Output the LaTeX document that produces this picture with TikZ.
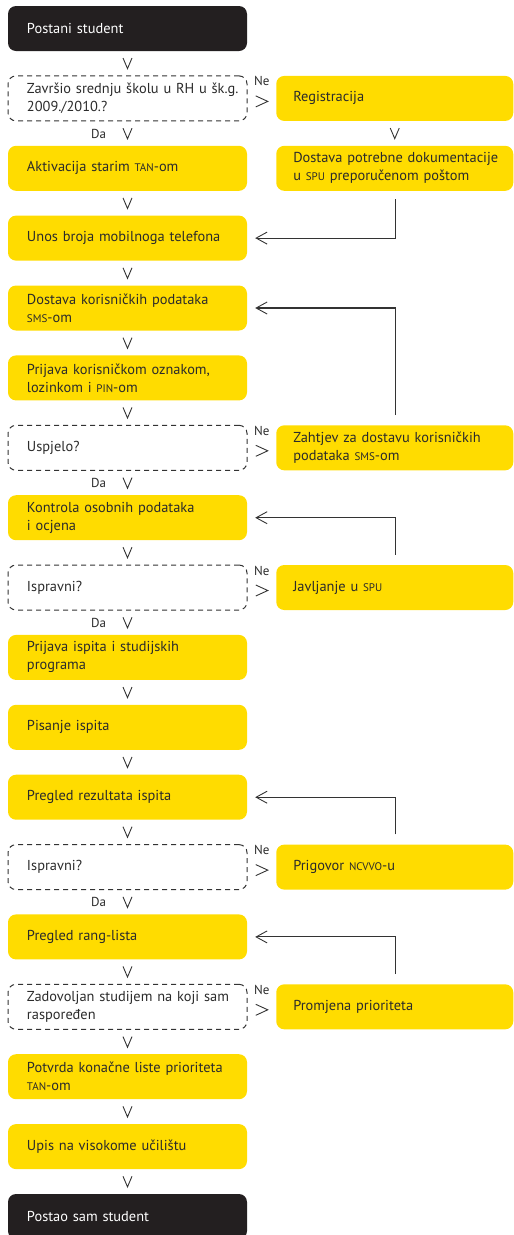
\documentclass[tikz,border=0pt]{standalone}
\usepackage{fontspec}
\setmainfont{PT Sans}
\usetikzlibrary{arrows.meta,decorations.markings}
\definecolor{ey}{HTML}{FFDC00}
\definecolor{eblack}{HTML}{231F20}
\definecolor{etext}{HTML}{2B2B2B}
\definecolor{eline}{HTML}{333333}
\newcommand\smc[1]{{\fontsize{11}{18}\selectfont #1}}
\newcommand\fs{\fontsize{14.4}{18}\selectfont}
\begin{document}
\begin{tikzpicture}[x=1pt,y=-1pt,
  lbox/.style={rounded corners=8pt, minimum width=239pt, minimum height=45pt,
    text width=201pt, inner xsep=19pt, inner ysep=0pt, align=left, font=\fs, text=etext},
  yb/.style={lbox, fill=ey},
  bb/.style={lbox, fill=eblack, text=white},
  db/.style={lbox, draw=eline, dash pattern=on 5pt off 4pt, line width=1pt},
  rbox/.style={yb, minimum width=237pt, text width=203pt, inner xsep=17pt},
  vcon/.style={decoration={markings, mark=at position 0.5 with {\draw[eline, line width=0.9pt] (-5.3pt,4.5pt) -- (5.3pt,0pt) -- (-5.3pt,-4.5pt);}}, postaction=decorate},
  necon/.style={decoration={markings, mark=at position 0.5 with {\draw[eline, line width=0.9pt] (-6pt,5.5pt) -- (6pt,0pt) -- (-6pt,-5.5pt);}}, postaction=decorate},
  fb/.style={draw=eline, line width=1.1pt, -{Straight Barb[length=11pt,width=12pt,line width=0.9pt]}},
  lab/.style={font=\fontsize{13}{15}\selectfont, text=etext, inner sep=0pt},
]
\useasboundingbox (0,0) rectangle (514,1235);

% left column
\node[bb] (n0) at (127.5,28.5) {Postani student};
\node[db] (n1) at (127.5,98.4) {\mbox{Završio srednju školu u RH u šk.g.}\\2009./2010.?};
\node[yb] (n2) at (127.5,168.3) {Aktivacija starim \smc{TAN}-om};
\node[yb] (n3) at (127.5,238.1) {Unos broja mobilnoga telefona};
\node[yb] (n4) at (127.5,308.0) {Dostava korisničkih podataka\\\smc{SMS}-om};
\node[yb] (n5) at (127.5,377.9) {Prijava korisničkom oznakom,\\lozinkom i \smc{PIN}-om};
\node[db] (n6) at (127.5,447.8) {Uspjelo?};
\node[yb] (n7) at (127.5,517.7) {Kontrola osobnih podataka\\i ocjena};
\node[db] (n8) at (127.5,587.5) {Ispravni?};
\node[yb] (n9) at (127.5,657.4) {Prijava ispita i studijskih\\programa};
\node[yb] (n10) at (127.5,727.3) {Pisanje ispita};
\node[yb] (n11) at (127.5,797.2) {Pregled rezultata ispita};
\node[db] (n12) at (127.5,867.1) {Ispravni?};
\node[yb] (n13) at (127.5,936.9) {Pregled rang-lista};
\node[db] (n14) at (127.5,1006.8) {\mbox{Zadovoljan studijem na koji sam}\\raspoređen};
\node[yb] (n15) at (127.5,1076.7) {\mbox{Potvrda konačne liste prioriteta}\\\smc{TAN}-om};
\node[yb] (n16) at (127.5,1146.6) {Upis na visokome učilištu};
\node[bb] (n17) at (127.5,1216.5) {Postao sam student};

% right column
\node[rbox] (r1) at (394.75,98.4) {Registracija};
\node[rbox] (r2) at (394.75,168.3) {\mbox{Dostava potrebne dokumentacije}\\u \smc{SPU} preporučenom poštom};
\node[rbox] (r6) at (394.75,447.8) {\mbox{Zahtjev za dostavu korisničkih}\\podataka \smc{SMS}-om};
\node[rbox] (r8) at (394.75,587.5) {Javljanje u \smc{SPU}};
\node[rbox] (r12) at (394.75,867.1) {Prigovor \smc{NCVVO}-u};
\node[rbox] (r14) at (394.75,1006.8) {Promjena prioriteta};

% main flow
\path[vcon] (n0) -- (n1);
\path[vcon] (n1) -- node[lab, xshift=-29pt] (da1) {Da} (n2);
\path[vcon] (n2) -- (n3);
\path[vcon] (n3) -- (n4);
\path[vcon] (n4) -- (n5);
\path[vcon] (n5) -- (n6);
\path[vcon] (n6) -- node[lab, xshift=-29pt] (da6) {Da} (n7);
\path[vcon] (n7) -- (n8);
\path[vcon] (n8) -- node[lab, xshift=-29pt] (da8) {Da} (n9);
\path[vcon] (n9) -- (n10);
\path[vcon] (n10) -- (n11);
\path[vcon] (n11) -- (n12);
\path[vcon] (n12) -- node[lab, xshift=-29pt] (da12) {Da} (n13);
\path[vcon] (n13) -- (n14);
\path[vcon] (n14) -- (n15);
\path[vcon] (n15) -- (n16);
\path[vcon] (n16) -- (n17);
\path[vcon] (r1) -- (r2);

% "Ne" branches
\path[necon] ([yshift=-3pt]n1.east) -- node[lab, yshift=20pt] (ne1) {Ne} ([yshift=-3pt]r1.west);
\path[necon] ([yshift=-3pt]n6.east) -- node[lab, yshift=20pt] (ne6) {Ne} ([yshift=-3pt]r6.west);
\path[necon] ([yshift=-3pt]n8.east) -- node[lab, yshift=20pt] (ne8) {Ne} ([yshift=-3pt]r8.west);
\path[necon] ([yshift=-3pt]n12.east) -- node[lab, yshift=20pt] (ne12) {Ne} ([yshift=-3pt]r12.west);
\path[necon] ([yshift=-3pt]n14.east) -- node[lab, yshift=20pt] (ne14) {Ne} ([yshift=-3pt]r14.west);

% feedback
\draw[fb] ([xshift=1pt,yshift=-8pt]r2.south) |- ([xshift=8pt]n3.east);
\draw[fb] ([xshift=1pt,yshift=10pt]r6.north) |- ([xshift=8pt]n4.east);
\draw[fb] ([xshift=1pt,yshift=10pt]r8.north) |- ([xshift=8pt]n7.east);
\draw[fb] ([xshift=1pt,yshift=10pt]r12.north) |- ([xshift=8pt]n11.east);
\draw[fb] ([xshift=1pt,yshift=10pt]r14.north) |- ([xshift=8pt]n13.east);
\end{tikzpicture}
\end{document}
